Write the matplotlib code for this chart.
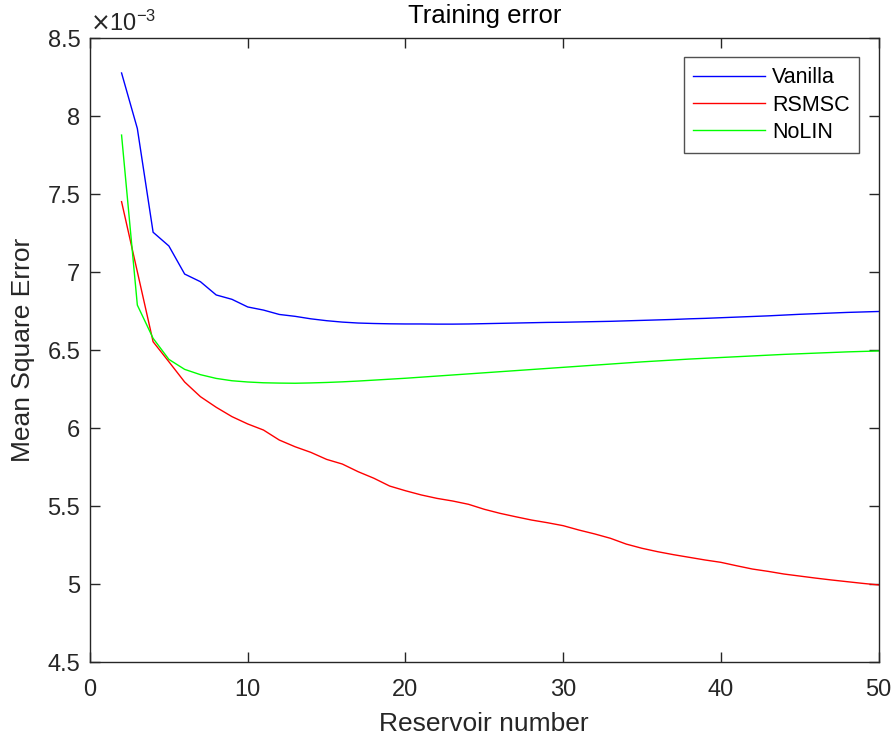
import numpy as np
import matplotlib.pyplot as plt

plt.rcParams['font.family'] = ['Liberation Sans', 'DejaVu Sans']

# numero de reservorios
reservoirs = np.arange(2, 51)

# error cuadratico medio (x1e-3)
vanilla = [8.276, 7.920, 7.255, 7.167, 6.987, 6.938, 6.853, 6.825, 6.776, 6.756,
           6.728, 6.716, 6.700, 6.688, 6.679, 6.673, 6.670, 6.668, 6.667, 6.667,
           6.666, 6.666, 6.667, 6.669, 6.671, 6.673, 6.675, 6.677, 6.678, 6.680,
           6.682, 6.684, 6.687, 6.690, 6.693, 6.696, 6.700, 6.703, 6.707, 6.711,
           6.715, 6.719, 6.724, 6.729, 6.733, 6.737, 6.741, 6.744, 6.747]
rsmsc = [7.451, 7.002, 6.553, 6.425, 6.295, 6.201, 6.133, 6.073, 6.026, 5.987,
         5.923, 5.880, 5.844, 5.799, 5.769, 5.720, 5.678, 5.628, 5.598, 5.571,
         5.549, 5.532, 5.511, 5.479, 5.453, 5.431, 5.410, 5.393, 5.374, 5.346,
         5.321, 5.293, 5.256, 5.229, 5.207, 5.188, 5.171, 5.154, 5.139, 5.117,
         5.096, 5.081, 5.064, 5.051, 5.038, 5.026, 5.015, 5.004, 4.994]
nolin = [7.878, 6.788, 6.575, 6.440, 6.376, 6.342, 6.318, 6.303, 6.295, 6.290,
         6.288, 6.287, 6.289, 6.292, 6.296, 6.301, 6.307, 6.313, 6.319, 6.326,
         6.333, 6.340, 6.347, 6.354, 6.361, 6.368, 6.375, 6.382, 6.389, 6.396,
         6.403, 6.410, 6.417, 6.424, 6.430, 6.436, 6.442, 6.447, 6.452, 6.457,
         6.462, 6.467, 6.472, 6.476, 6.480, 6.484, 6.488, 6.491, 6.494]

series = [("Vanilla", vanilla, (0, 0, 1)),
          ("RSMSC", rsmsc, (1, 0, 0)),
          ("NoLIN", nolin, (0, 1, 0))]

fig = plt.figure(figsize=(8.94, 7.4), dpi=100)
ax = fig.add_axes([0.1007, 0.1054, 0.882, 0.8432])

for name, vals, col in series:
    ax.plot(reservoirs, vals, color=col, lw=1.0, label=name)

ax.set_xlim(0, 50)
ax.set_ylim(4.5, 8.5)
ax.set_xticks([0, 10, 20, 30, 40, 50])
ax.set_yticks([4.5, 5, 5.5, 6, 6.5, 7, 7.5, 8, 8.5])
ax.set_yticklabels(['4.5', '5', '5.5', '6', '6.5', '7', '7.5', '8', '8.5'])

gris = '#262626'
for s in ax.spines.values():
    s.set_color(gris)
    s.set_linewidth(1.0)
ax.tick_params(direction='in', length=7, width=1.0, colors=gris,
               labelsize=17, top=True, right=True)
ax.tick_params(axis='x', pad=12)
ax.tick_params(axis='y', pad=7)

ax.set_xlabel("Reservoir number", fontsize=19, color=gris, labelpad=8)
ax.set_ylabel("Mean Square Error", fontsize=19, color=gris, labelpad=9)
ax.set_title("Training error", fontsize=18.5, color='black', pad=11)

# etiqueta del exponente estilo MATLAB
ax.text(0.0, 1.003, r'$\times\mathregular{10^{-3}}$', transform=ax.transAxes,
        fontsize=17, color=gris, ha='left', va='bottom')

leg = ax.legend(loc='upper right', fontsize=15.5, frameon=True, fancybox=False,
                edgecolor=gris, handlelength=3.35, handletextpad=0.3,
                borderaxespad=0.9, labelspacing=0.3, borderpad=0.45)
leg.get_frame().set_linewidth(1.0)

fig.savefig("out.png", dpi=100)
